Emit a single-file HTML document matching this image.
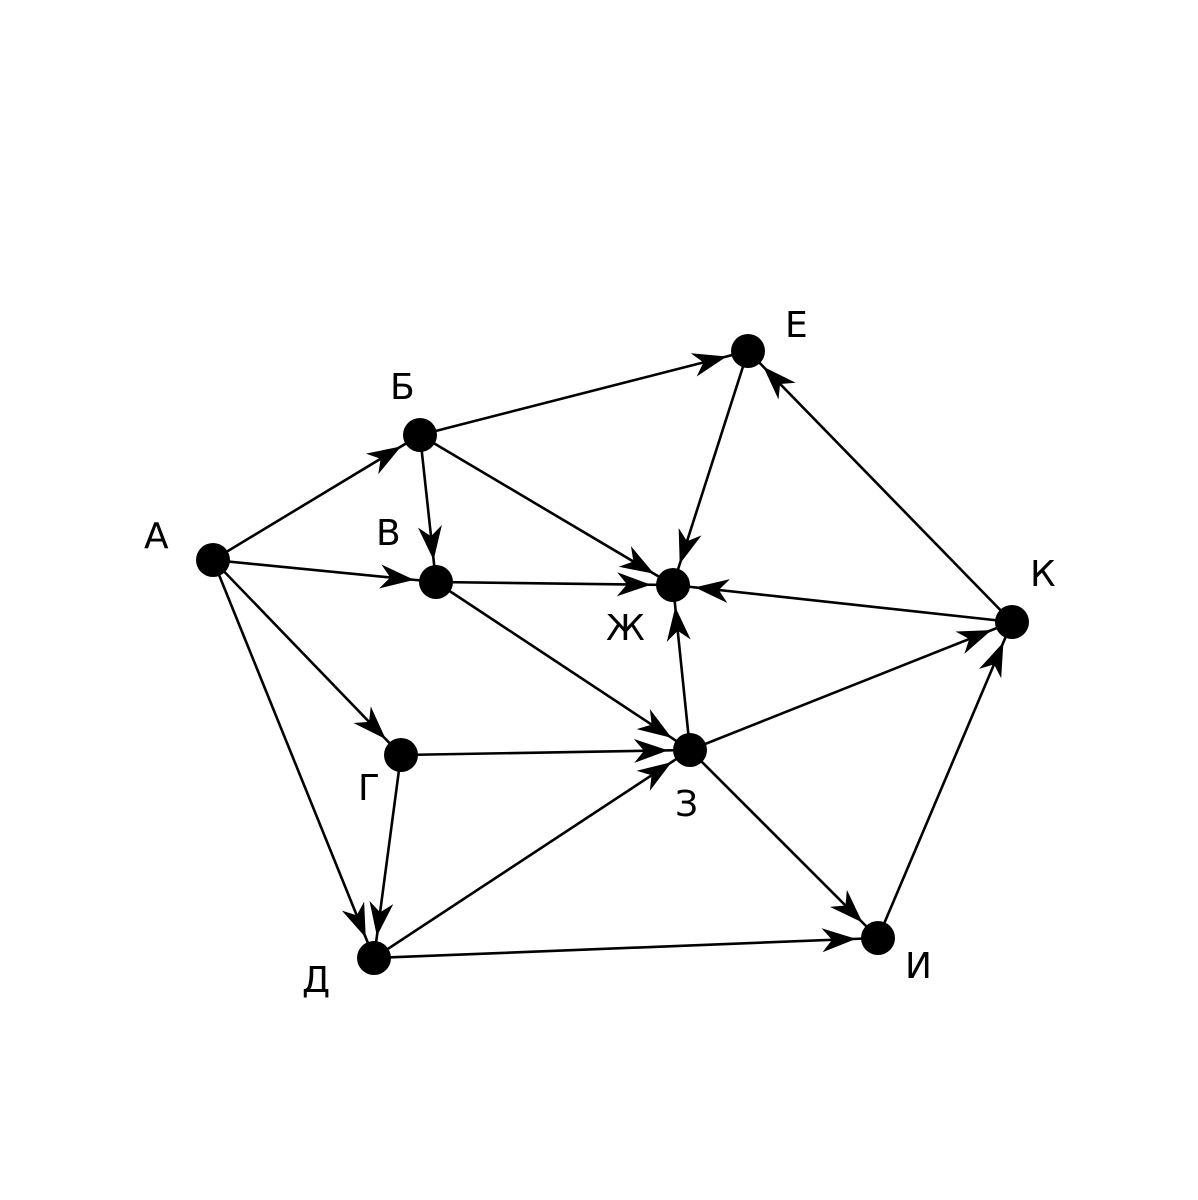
<!DOCTYPE html>
<html><head><meta charset="utf-8"><style>
html,body{margin:0;padding:0;background:#fff;}
svg{display:block}
text{font-family:"DejaVu Sans","Liberation Sans",sans-serif;font-size:36px;fill:#000}
</style></head><body>
<svg width="1198" height="1200" viewBox="0 0 1198 1200" xmlns="http://www.w3.org/2000/svg">
<defs>
<marker id="a" markerUnits="userSpaceOnUse" markerWidth="80" markerHeight="50" viewBox="-40 -25 80 50" refX="22" refY="0" orient="auto">
<path d="M-34,-12 L0,0 L-34,12 L-24,0 z" fill="#000"/>
</marker>
</defs>
<g stroke="#000" stroke-width="2.6" marker-end="url(#a)">
<line x1="213" y1="560" x2="420" y2="435"/>
<line x1="213" y1="560" x2="436" y2="582"/>
<line x1="213" y1="560" x2="401" y2="755"/>
<line x1="213" y1="560" x2="374" y2="958"/>
<line x1="420" y1="435" x2="748" y2="351"/>
<line x1="420" y1="435" x2="436" y2="582"/>
<line x1="420" y1="435" x2="673" y2="585"/>
<line x1="436" y1="582" x2="673" y2="585"/>
<line x1="436" y1="582" x2="690" y2="750"/>
<line x1="401" y1="755" x2="690" y2="750"/>
<line x1="401" y1="755" x2="374" y2="958"/>
<line x1="374" y1="958" x2="690" y2="750"/>
<line x1="374" y1="958" x2="878" y2="938"/>
<line x1="748" y1="351" x2="673" y2="585"/>
<line x1="1012" y1="622" x2="748" y2="351"/>
<line x1="1012" y1="622" x2="673" y2="585"/>
<line x1="690" y1="750" x2="673" y2="585"/>
<line x1="690" y1="750" x2="1012" y2="622"/>
<line x1="690" y1="750" x2="878" y2="938"/>
<line x1="878" y1="938" x2="1012" y2="622"/>
</g>
<g fill="#000">
<circle cx="213" cy="560" r="17"/>
<circle cx="420" cy="435" r="17"/>
<circle cx="436" cy="582" r="17"/>
<circle cx="401" cy="755" r="17"/>
<circle cx="374" cy="958" r="17"/>
<circle cx="748" cy="351" r="17"/>
<circle cx="673" cy="585" r="17"/>
<circle cx="690" cy="750" r="17"/>
<circle cx="878" cy="938" r="17"/>
<circle cx="1012" cy="622" r="17"/>
</g>
<text x="144" y="548">А</text>
<text x="390" y="399">Б</text>
<text x="376" y="545">В</text>
<text x="358" y="800">Г</text>
<text x="302" y="992">Д</text>
<text x="785" y="337">Е</text>
<text x="606" y="640">Ж</text>
<text x="675" y="816">З</text>
<text x="905" y="978">И</text>
<text x="1030" y="586">К</text>
</svg>
</body></html>
